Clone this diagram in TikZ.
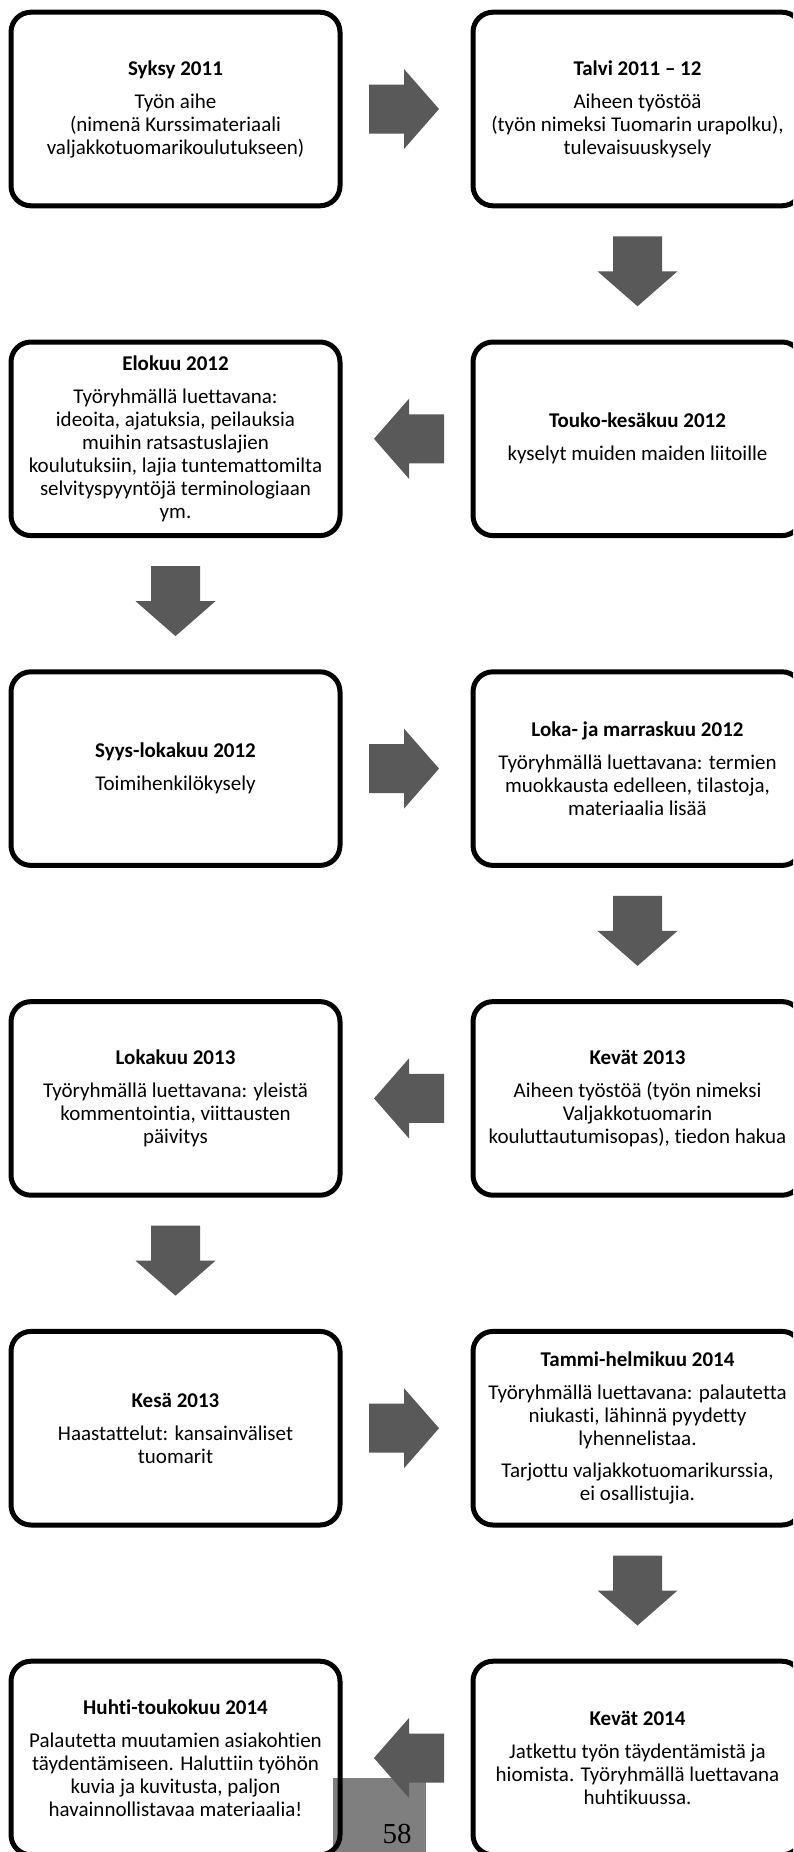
\documentclass[tikz,border=0pt]{standalone}
\usepackage{fontspec}
\setmainfont{Carlito}[Ligatures=CommonOff]
\newfontfamily\pagenumfont{Liberation Serif}
\usetikzlibrary{calc}
\definecolor{arrowgrey}{RGB}{89,89,89}
\definecolor{pagegrey}{RGB}{127,127,127}
\newcommand\blkR[1]{\fill[blockarrow] ($(#1)+(-35,-24.5)$) -- ++(35,0) -- ++(0,-15.5) -- ++(35,40) -- ++(-35,40) -- ++(0,-15.5) -- ++(-35,0) -- cycle;}
\newcommand\blkL[1]{\fill[blockarrow] ($(#1)+(35,-24.5)$) -- ++(-35,0) -- ++(0,-15.5) -- ++(-35,40) -- ++(35,40) -- ++(0,-15.5) -- ++(35,0) -- cycle;}
\newcommand\blkD[1]{\fill[blockarrow] ($(#1)+(-24.5,-35)$) -- ++(49,0) -- ++(0,35) -- ++(15.5,0) -- ++(-40,35) -- ++(-40,-35) -- ++(15.5,0) -- cycle;}
\begin{document}
\begin{tikzpicture}[x=1pt,y=-1pt,
  stage/.style={draw=black, line width=5pt, rounded corners=20pt,
    minimum width=329pt, minimum height=193.6pt, align=center, inner sep=0pt,
    font=\fontsize{21}{23}\selectfont},
  blockarrow/.style={fill=arrowgrey},
  pagebox/.style={fill=pagegrey}]
\useasboundingbox (0,0) rectangle (793,1852);
\fill[white] (0,0) rectangle (793,1852);
\clip (0,0) rectangle (793,1852);
% page number box
\fill[pagebox] (333,1778) rectangle (426,1860);
\node[anchor=base, font=\pagenumfont\fontsize{29}{30}\selectfont] (pnum) at (397,1843) {58};
% row 1
\node[stage] (l1) at (175.5,109) {\textbf{Syksy 2011}\\[10pt]Työn aihe\\(nimenä Kurssimateriaali\\valjakkotuomarikoulutukseen)};
\node[stage] (r1) at (637.5,109) {\textbf{Talvi 2011 – 12}\\[10pt]Aiheen työstöä\\(työn nimeksi Tuomarin urapolku),\\tulevaisuuskysely};
% row 2
\node[stage] (l2) at (175.5,438.8) {\textbf{Elokuu 2012}\\[10pt]Työryhmällä luettavana:\\ideoita, ajatuksia, peilauksia\\muihin ratsastuslajien\\koulutuksiin, lajia tuntemattomilta\\selvityspyyntöjä terminologiaan\\ym.};
\node[stage] (r2) at (637.5,438.8) {\textbf{Touko-kesäkuu 2012}\\[10pt]kyselyt muiden maiden liitoille};
% row 3
\node[stage] (l3) at (175.5,768.6) {\textbf{Syys-lokakuu 2012}\\[10pt]Toimihenkilökysely};
\node[stage] (r3) at (637.5,768.6) {\textbf{Loka- ja marraskuu 2012}\\[10pt]Työryhmällä luettavana: termien\\muokkausta edelleen, tilastoja,\\materiaalia lisää};
% row 4
\node[stage] (l4) at (175.5,1098.4) {\textbf{Lokakuu 2013}\\[10pt]Työryhmällä luettavana: yleistä\\kommentointia, viittausten\\päivitys};
\node[stage] (r4) at (637.5,1098.4) {\textbf{Kevät 2013}\\[10pt]Aiheen työstöä (työn nimeksi\\Valjakkotuomarin\\kouluttautumisopas), tiedon hakua};
% row 5
\node[stage] (l5) at (175.5,1428.2) {\textbf{Kesä 2013}\\[10pt]Haastattelut: kansainväliset\\tuomarit};
\node[stage] (r5) at (637.5,1428.2) {\textbf{Tammi-helmikuu 2014}\\[10pt]Työryhmällä luettavana: palautetta\\niukasti, lähinnä pyydetty\\lyhennelistaa.\\[9pt]Tarjottu valjakkotuomarikurssia,\\ei osallistujia.};
% row 6
\node[stage] (l6) at (175.5,1758) {\textbf{Huhti-toukokuu 2014}\\[10pt]Palautetta muutamien asiakohtien\\täydentämiseen. Haluttiin työhön\\kuvia ja kuvitusta, paljon\\havainnollistavaa materiaalia!};
\node[stage] (r6) at (637.5,1758) {\textbf{Kevät 2014}\\[10pt]Jatkettu työn täydentämistä ja\\hiomista. Työryhmällä luettavana\\huhtikuussa.};
% arrow anchor points
\coordinate (h1) at ($(l1.east)!0.5!(r1.west)+(-2.5,0)$);
\coordinate (v1) at ($(r1.south)!0.5!(r2.north)+(0,-2.6)$);
\coordinate (h2) at ($(l2.east)!0.5!(r2.west)+(2.5,0)$);
\coordinate (v2) at ($(l2.south)!0.5!(l3.north)+(0,-2.6)$);
\coordinate (h3) at ($(l3.east)!0.5!(r3.west)+(-2.5,0)$);
\coordinate (v3) at ($(r3.south)!0.5!(r4.north)+(0,-2.6)$);
\coordinate (h4) at ($(l4.east)!0.5!(r4.west)+(2.5,0)$);
\coordinate (v4) at ($(l4.south)!0.5!(l5.north)+(0,-2.6)$);
\coordinate (h5) at ($(l5.east)!0.5!(r5.west)+(-2.5,0)$);
\coordinate (v5) at ($(r5.south)!0.5!(r6.north)+(0,-2.6)$);
\coordinate (h6) at ($(l6.east)!0.5!(r6.west)+(2.5,0)$);
\blkR{h1}
\blkD{v1}
\blkL{h2}
\blkD{v2}
\blkR{h3}
\blkD{v3}
\blkL{h4}
\blkD{v4}
\blkR{h5}
\blkD{v5}
\blkL{h6}
\end{tikzpicture}
\end{document}
